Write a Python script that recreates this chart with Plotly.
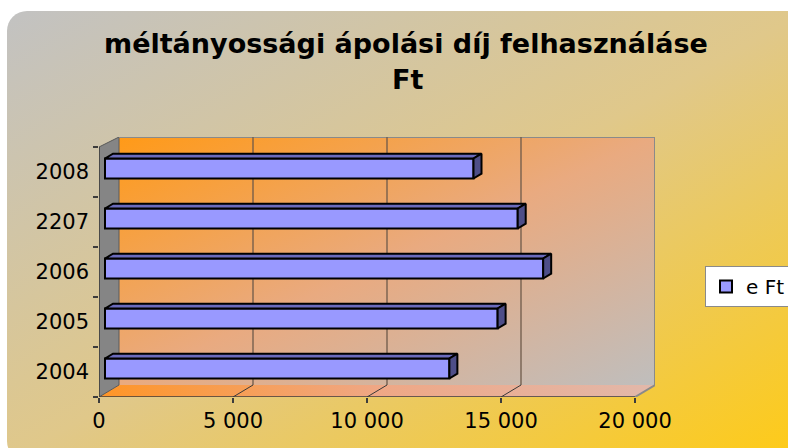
import base64
import plotly.graph_objects as go

# ---------------- data ----------------
categories = ["2004", "2005", "2006", "2207", "2008"]
values = [12850, 14650, 16350, 15400, 13750]
series_name = "e Ft"
x_tickvals = [0, 5000, 10000, 15000, 20000]
x_ticktext = ["0", "5 000", "10 000", "15 000", "20 000"]
title_line1 = "méltányossági ápolási díj felhasználáse"
title_line2 = "Ft"

# ---------------- geometry (pixel-based pseudo 3D) ----------------
W, H = 788, 448
L_PX, R_PX, T_PX, B_PX = 99, 655, 137, 397       # plot area in pixels
X_MAX = 20000
PX_PER_UNIT_X = (635 - 99) / X_MAX                 # front axis: 0..20000 over 536px
X_RANGE_MAX = (R_PX - L_PX) / PX_PER_UNIT_X
PX_PER_CAT = 50.0
Y_RANGE_MAX = (B_PX - T_PX) / PX_PER_CAT           # 5.2
DEPTH_DX = 20 / PX_PER_UNIT_X                      # back wall offset in x units
DEPTH_DY = 12 / PX_PER_CAT                         # back wall offset in y units

BAR_BASE = 6 / PX_PER_UNIT_X
BAR_DY = 3.5 / PX_PER_CAT
BAR_W = 20 / PX_PER_CAT
BAR_DDX = 8 / PX_PER_UNIT_X
BAR_DDY = 4.8 / PX_PER_CAT


def svg_uri(svg):
    return "data:image/svg+xml;base64," + base64.b64encode(svg.encode("utf-8")).decode()


def paper_x(px):
    return (px - L_PX) / (R_PX - L_PX)


def paper_y(py):
    return (B_PX - py) / (B_PX - T_PX)


# background panel (rounded, diagonal gradient)
panel_svg = (
    '<svg xmlns="http://www.w3.org/2000/svg" width="800" height="450" viewBox="0 0 800 450" preserveAspectRatio="none">'
    '<defs><linearGradient id="g" x1="0" y1="0" x2="1" y2="1">'
    '<stop offset="0" stop-color="#c2c2c2"/><stop offset="0.5" stop-color="#e0c88a"/>'
    '<stop offset="1" stop-color="#ffcb14"/></linearGradient></defs>'
    '<rect x="0" y="0" width="800" height="450" rx="20" ry="20" fill="url(#g)"/></svg>'
)
wall_svg = (
    '<svg xmlns="http://www.w3.org/2000/svg" width="536" height="248" viewBox="0 0 536 248" preserveAspectRatio="none">'
    '<defs><linearGradient id="w" x1="0" y1="0" x2="1" y2="1">'
    '<stop offset="0" stop-color="#ff9a18"/><stop offset="0.5" stop-color="#e9aa80"/>'
    '<stop offset="1" stop-color="#bfbebd"/></linearGradient></defs>'
    '<rect x="0" y="0" width="536" height="248" fill="url(#w)"/></svg>'
)
floor_svg = (
    '<svg xmlns="http://www.w3.org/2000/svg" width="556" height="12" viewBox="0 0 556 12" preserveAspectRatio="none">'
    '<defs><linearGradient id="f" x1="0" y1="0" x2="1" y2="0">'
    '<stop offset="0" stop-color="#ff9526"/><stop offset="0.5" stop-color="#efa785"/>'
    '<stop offset="1" stop-color="#e2b8aa"/></linearGradient></defs>'
    '<polygon points="0,12 536,12 556,0 20,0" fill="url(#f)"/></svg>'
)

images = [
    dict(source=svg_uri(panel_svg), xref="paper", yref="paper",
         x=paper_x(7), y=paper_y(11), sizex=(800) / (R_PX - L_PX), sizey=(450) / (B_PX - T_PX),
         xanchor="left", yanchor="top", sizing="stretch", layer="below"),
    dict(source=svg_uri(wall_svg), xref="x", yref="y",
         x=DEPTH_DX, y=Y_RANGE_MAX, sizex=X_MAX, sizey=Y_RANGE_MAX - DEPTH_DY,
         xanchor="left", yanchor="top", sizing="stretch", layer="below"),
    dict(source=svg_uri(floor_svg), xref="x", yref="y",
         x=0, y=DEPTH_DY, sizex=X_MAX + DEPTH_DX, sizey=DEPTH_DY,
         xanchor="left", yanchor="top", sizing="stretch", layer="below"),
]

n_cat = len(categories)
LAYER = "between"
shapes = []
# side wall
shapes.append(dict(type="path", xref="x", yref="y", layer=LAYER,
                   path=f"M 0 0 L {DEPTH_DX} {DEPTH_DY} L {DEPTH_DX} {Y_RANGE_MAX} L 0 {n_cat} Z",
                   fillcolor="#858585", line=dict(color="#5a5a5a", width=1)))
# back wall border (top + right)
shapes.append(dict(type="path", xref="x", yref="y", layer=LAYER,
                   path=f"M {DEPTH_DX} {Y_RANGE_MAX} L {X_MAX + DEPTH_DX} {Y_RANGE_MAX} L {X_MAX + DEPTH_DX} {DEPTH_DY}",
                   line=dict(color="#8a8a8a", width=2)))
# floor right edge
shapes.append(dict(type="line", xref="x", yref="y", layer=LAYER,
                   x0=X_MAX, y0=0, x1=X_MAX + DEPTH_DX, y1=DEPTH_DY,
                   line=dict(color="#8a8a8a", width=2)))
# gridlines on back wall + floor diagonals
for tv in x_tickvals[1:-1]:
    shapes.append(dict(type="line", xref="x", yref="y", layer=LAYER,
                       x0=tv + DEPTH_DX, y0=DEPTH_DY, x1=tv + DEPTH_DX, y1=Y_RANGE_MAX,
                       line=dict(color="#6e5a4a", width=1.3)))
    shapes.append(dict(type="line", xref="x", yref="y", layer=LAYER,
                       x0=tv, y0=0, x1=tv + DEPTH_DX, y1=DEPTH_DY,
                       line=dict(color="#3a3a3a", width=1)))
# front axes lines
shapes.append(dict(type="line", xref="x", yref="y", layer=LAYER,
                   x0=0, y0=0, x1=X_MAX, y1=0, line=dict(color="#3c3c3c", width=1.5)))
shapes.append(dict(type="line", xref="x", yref="y", layer=LAYER,
                   x0=0, y0=0, x1=0, y1=n_cat, line=dict(color="#3c3c3c", width=1.5)))

# bar geometry
bar_y = [i + 0.5 + BAR_DY for i in range(n_cat)]
top_x, top_y, end_x, end_y = [], [], [], []
for yc, v in zip(bar_y, values):
    yt = yc + BAR_W / 2
    yb = yc - BAR_W / 2
    x0 = BAR_BASE
    x1 = BAR_BASE + v
    top_x += [x0, x1, x1 + BAR_DDX, x0 + BAR_DDX, x0, None]
    top_y += [yt, yt, yt + BAR_DDY, yt + BAR_DDY, yt, None]
    end_x += [x1, x1 + BAR_DDX, x1 + BAR_DDX, x1, x1, None]
    end_y += [yb, yb + BAR_DDY, yt + BAR_DDY, yt, yb, None]

fig = go.Figure()
fig.add_trace(go.Bar(
    x=values, y=bar_y, base=BAR_BASE, orientation="h", width=BAR_W,
    name=series_name, marker=dict(color="#9999ff", line=dict(color="#000000", width=2)),
    hoverinfo="x+name",
))
fig.add_trace(go.Scatter(
    x=top_x, y=top_y, mode="lines", fill="toself", fillcolor="#6b6bbd",
    line=dict(color="#000000", width=2), showlegend=False, hoverinfo="skip",
))
fig.add_trace(go.Scatter(
    x=end_x, y=end_y, mode="lines", fill="toself", fillcolor="#4e4e88",
    line=dict(color="#000000", width=2), showlegend=False, hoverinfo="skip",
))

tick_font = dict(family="DejaVu Sans", size=21, color="#000000")
legend_font = dict(family="DejaVu Sans", size=20, color="#000000")
title_font = dict(family="DejaVu Sans", size=27, color="#000000")

fig.update_layout(
    width=W, height=H,
    margin=dict(l=L_PX, r=W - R_PX, t=T_PX, b=H - B_PX, autoexpand=False),
    paper_bgcolor="#ffffff", plot_bgcolor="rgba(0,0,0,0)",
    images=images, shapes=shapes,
    showlegend=True,
    legend=dict(x=paper_x(705), y=paper_y(266), xanchor="left", yanchor="top",
                bgcolor="#ffffff", bordercolor="#8a8a8a", borderwidth=1,
                font=legend_font, itemwidth=30),
    xaxis=dict(range=[0, X_RANGE_MAX], tickvals=x_tickvals, ticktext=x_ticktext,
               ticks="outside", ticklen=5, tickcolor="#3c3c3c", tickwidth=1.5,
               showline=False, showgrid=False, zeroline=False, tickfont=tick_font,
               fixedrange=True),
    yaxis=dict(range=[0, Y_RANGE_MAX], tickvals=[i + 0.5 for i in range(n_cat)],
               ticktext=categories, ticks="", showline=False, showgrid=False,
               zeroline=False, tickfont=tick_font, ticklabelstandoff=9,
               minor=dict(tickvals=list(range(n_cat + 1)), ticks="outside", ticklen=5,
                          tickcolor="#3c3c3c", tickwidth=1.5, showgrid=False),
               fixedrange=True),
    annotations=[
        dict(text="<b>" + title_line1 + "</b>", xref="paper", yref="paper",
             x=paper_x(406), y=paper_y(44), xanchor="center", yanchor="middle",
             showarrow=False, font=title_font),
        dict(text="<b>" + title_line2 + "</b>", xref="paper", yref="paper",
             x=paper_x(407), y=paper_y(80), xanchor="center", yanchor="middle",
             showarrow=False, font=title_font),
    ],
)

fig.write_html("out.html", config={"displayModeBar": False},
               post_script="document.body.style.margin='0';")
